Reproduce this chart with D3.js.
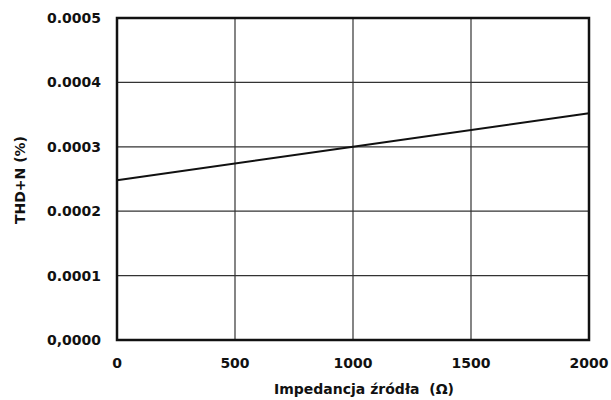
<!DOCTYPE html>
<html>
<head>
<meta charset="utf-8">
<script src="https://cdn.jsdelivr.net/npm/d3@7"></script>
<style>
  body { margin: 0; background: #fff; }
  text { font-family: "DejaVu Sans", sans-serif; font-weight: bold; fill: #111; }
</style>
</head>
<body>
<div id="chart"></div>
<script>
var width = 611;
var height = 400;

// impedance (ohm) and THD+N (%)
var impedance = [0, 1000, 2000];
var thdn = [0.000248, 0.000300, 0.000352];

var xTicks = [0, 500, 1000, 1500, 2000];
var yTicks = [0, 0.0001, 0.0002, 0.0003, 0.0004, 0.0005];
var yTickLabels = ["0,0000", "0.0001", "0.0002", "0.0003", "0.0004", "0.0005"];

var margin = {left: 117, right: 22, top: 18, bottom: 60};

var svg = d3.select("#chart").append("svg")
    .attr("width", width)
    .attr("height", height);

var x = d3.scaleLinear()
    .domain([0, 2000])
    .range([margin.left, width - margin.right]);

var y = d3.scaleLinear()
    .domain([0, 0.0005])
    .range([height - margin.bottom, margin.top]);

// grid
svg.selectAll(".vgrid")
    .data(xTicks)
    .enter()
    .append("line")
    .attr("x1", d => x(d)).attr("x2", d => x(d))
    .attr("y1", y(0)).attr("y2", y(0.0005))
    .attr("stroke", "#333")
    .attr("stroke-width", 1.2);

svg.selectAll(".hgrid")
    .data(yTicks)
    .enter()
    .append("line")
    .attr("x1", x(0)).attr("x2", x(2000))
    .attr("y1", d => y(d)).attr("y2", d => y(d))
    .attr("stroke", "#333")
    .attr("stroke-width", 1.2);

// frame
svg.append("rect")
    .attr("x", x(0))
    .attr("y", y(0.0005))
    .attr("width", x(2000) - x(0))
    .attr("height", y(0) - y(0.0005))
    .attr("fill", "none")
    .attr("stroke", "#111")
    .attr("stroke-width", 2.5);

// data line
var line = d3.line()
    .x((d, i) => x(impedance[i]))
    .y(d => y(d));

svg.append("path")
    .datum(thdn)
    .attr("d", line)
    .attr("fill", "none")
    .attr("stroke", "#111")
    .attr("stroke-width", 2);

// y tick labels
svg.selectAll(".ylab")
    .data(yTicks)
    .enter()
    .append("text")
    .attr("x", 101)
    .attr("y", d => y(d))
    .attr("dy", "0.35em")
    .attr("text-anchor", "end")
    .style("font-size", "14px")
    .text((d, i) => yTickLabels[i]);

// x tick labels
svg.selectAll(".xlab")
    .data(xTicks)
    .enter()
    .append("text")
    .attr("x", d => x(d))
    .attr("y", 368)
    .attr("text-anchor", "middle")
    .style("font-size", "14px")
    .text(d => d);

// axis titles
svg.append("text")
    .attr("x", 364)
    .attr("y", 394)
    .attr("text-anchor", "middle")
    .attr("xml:space", "preserve")
    .style("white-space", "pre")
    .style("font-size", "14px")
    .text("Impedancja źródła  (Ω)");

svg.append("text")
    .attr("transform", "translate(25," + 180 + ") rotate(-90)")
    .attr("text-anchor", "middle")
    .style("font-size", "14px")
    .text("THD+N (%)");
</script>
</body>
</html>
